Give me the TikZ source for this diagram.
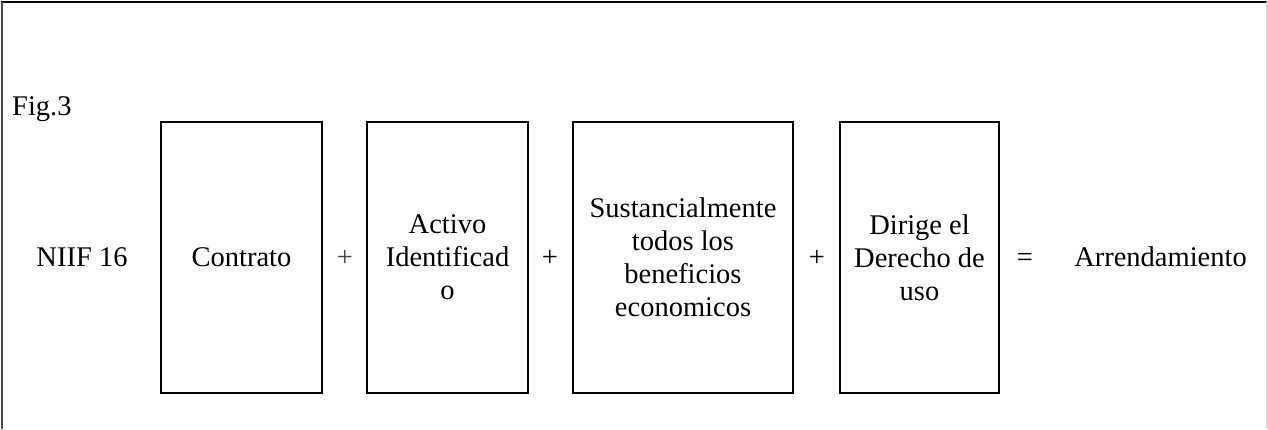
\documentclass[tikz,border=0pt]{standalone}
\usepackage{fontspec}
\setmainfont{Liberation Serif}
\begin{document}
\begin{tikzpicture}[x=1pt,y=-1pt,
  txt/.style={font=\fontsize{28.5}{33}\selectfont, inner sep=0pt},
  termbox/.style={draw=black, line width=1.4pt, inner sep=0pt, minimum height=271pt,
    align=center, font=\fontsize{28.5}{33}\selectfont}]
\useasboundingbox (0,0) rectangle (1268,429);
% frame
\draw[line width=2pt, black] (1,2) -- (1267,2);
\draw[line width=2pt, black!70] (2,2) -- (2,429);
\draw[line width=1.5pt, black!15] (1267,2) -- (1267,429);
% label
\node[txt, anchor=base west] (fig) at (12,115) {Fig.3};
\node[txt, anchor=base] (niif) at (82,266) {NIIF 16};
% boxes
\node[termbox, minimum width=161pt] (contrato) at (241.5,257.5) {Contrato};
\node[termbox, minimum width=161pt] (activo) at (447.5,257.5) {Activo\\Identificad\\o};
\node[termbox, minimum width=220pt] (sust) at (683,257.5) {Sustancialmente\\todos los\\beneficios\\economicos};
\node[termbox, minimum width=159pt] (dirige) at (919.5,257.5) {Dirige el\\Derecho de\\uso};
% operators
\node[txt, anchor=base, text=black!75] (p1) at (345,266) {+};
\node[txt, anchor=base] (p2) at (550,266) {+};
\node[txt, anchor=base] (p3) at (817,266) {+};
\node[txt, anchor=base] (eq) at (1025,266) {=};
\node[txt, anchor=base] (arr) at (1160.5,266) {Arrendamiento};
\end{tikzpicture}
\end{document}
